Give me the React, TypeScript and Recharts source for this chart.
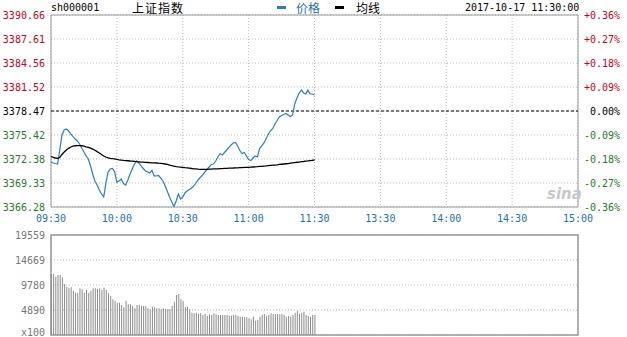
import {
  ComposedChart,
  BarChart,
  Bar,
  Line,
  XAxis,
  YAxis,
  CartesianGrid,
  ReferenceLine,
  ReferenceArea,
} from 'recharts';

// minute index 0 = 09:30, 120 = 11:30 / 13:00, 240 = 15:00
const price = [
  3372.03, 3371.87, 3371.8, 3371.74, 3373.52, 3375.42, 3376.06, 3376.18, 3375.93, 3375.55,
  3375.21, 3374.91, 3374.66, 3374.28, 3373.77, 3373.26, 3372.76, 3372.38, 3371.49, 3370.47,
  3369.58, 3369.07, 3368.44, 3367.93, 3367.55, 3369.33, 3370.72, 3371.11, 3371.17, 3370.72,
  3369.45, 3369.58, 3369.84, 3369.26, 3369.07, 3369.71, 3370.47, 3371.11, 3371.74, 3372.12,
  3371.87, 3371.49, 3371.17, 3370.85, 3370.72, 3370.6, 3370.92, 3370.22, 3370.22, 3370.28,
  3369.96, 3369.58, 3368.95, 3368.25, 3367.55, 3366.92, 3366.34, 3367.04, 3367.93, 3367.3,
  3367.55, 3368.06, 3368.31, 3368.5, 3368.69, 3368.95, 3369.33, 3369.71, 3370.03, 3370.34,
  3370.72, 3371.04, 3371.36, 3371.68, 3371.74, 3372.12, 3372.63, 3373.07, 3372.88, 3373.2,
  3373.52, 3373.84, 3374.15, 3374.41, 3374.47, 3374.03, 3373.45, 3373.07, 3373.2, 3372.76,
  3372.31, 3372.18, 3372.5, 3372.76, 3372.63, 3373.71, 3374.03, 3374.41, 3374.98, 3375.55,
  3375.99, 3376.25, 3376.82, 3377.26, 3377.71, 3377.9, 3378.03, 3378.15, 3377.96, 3377.77,
  3377.96, 3379.36, 3380.12, 3380.76, 3381.14, 3380.76, 3380.63, 3381.14, 3380.63, 3380.63,
  3380.5,
];

const avgPrice = [
  3372.69, 3372.57, 3372.5, 3372.46, 3372.57, 3372.95, 3373.26, 3373.52, 3373.73, 3373.9,
  3374.0, 3374.06, 3374.08, 3374.08, 3374.06, 3374.0, 3373.92, 3373.85, 3373.75, 3373.62,
  3373.49, 3373.31, 3373.14, 3372.95, 3372.76, 3372.63, 3372.53, 3372.46, 3372.41, 3372.38,
  3372.32, 3372.27, 3372.24, 3372.2, 3372.17, 3372.15, 3372.12, 3372.1, 3372.07, 3372.04,
  3372.02, 3371.99, 3371.97, 3371.94, 3371.93, 3371.91, 3371.89, 3371.88, 3371.87, 3371.84,
  3371.82, 3371.78, 3371.74, 3371.68, 3371.61, 3371.54, 3371.46, 3371.41, 3371.37, 3371.35,
  3371.32, 3371.28, 3371.25, 3371.21, 3371.17, 3371.13, 3371.11, 3371.08, 3371.07, 3371.07,
  3371.07, 3371.07, 3371.08, 3371.09, 3371.11, 3371.12, 3371.13, 3371.15, 3371.16, 3371.18,
  3371.19, 3371.21, 3371.22, 3371.23, 3371.25, 3371.26, 3371.27, 3371.28, 3371.3, 3371.31,
  3371.32, 3371.34, 3371.36, 3371.38, 3371.4, 3371.43, 3371.45, 3371.48, 3371.5, 3371.53,
  3371.56, 3371.59, 3371.61, 3371.64, 3371.68, 3371.71, 3371.74, 3371.77, 3371.8, 3371.84,
  3371.88, 3371.92, 3371.96, 3371.99, 3372.03, 3372.06, 3372.1, 3372.13, 3372.17, 3372.21,
  3372.25,
];

// volume in lots (x100)
const volume = [
  11931, 11931, 11403, 11735, 11735, 11286, 9975, 9447, 9134, 9330,
  8665, 8273, 8273, 9134, 8938, 8273, 8802, 8273, 8665, 9134,
  9134, 8997, 9134, 8802, 9251, 8802, 8156, 7628, 6983, 6650,
  6318, 6318, 5868, 5418, 6709, 6005, 6005, 5672, 5222, 5868,
  5868, 5731, 5672, 5672, 5222, 5027, 5535, 5418, 5222, 5222,
  5027, 5222, 5085, 5085, 5027, 5672, 6513, 7824, 8019, 6983,
  6650, 5418, 5535, 5027, 4362, 4244, 4362, 4107, 4244, 3912,
  4107, 3716, 4049, 3912, 4244, 4049, 3912, 3912, 3912, 3912,
  3912, 3775, 3775, 3912, 3912, 3716, 3579, 3579, 3462, 3462,
  3266, 3071, 3579, 2797, 2934, 3579, 3912, 4107, 3775, 3912,
  4244, 4107, 4049, 4107, 4049, 4107, 3912, 3579, 3716, 3579,
  3912, 4362, 4753, 4107, 4362, 4557, 3912, 3716, 3579, 3912,
  3912,
];

const prevClose = 3378.47;
const priceTicks = [3366.28, 3369.33, 3372.38, 3375.42, 3378.47, 3381.52, 3384.56, 3387.61, 3390.66];
const pctLabels = ['-0.36%', '-0.27%', '-0.18%', '-0.09%', '0.00%', '+0.09%', '+0.18%', '+0.27%', '+0.36%'];
const timeTicks = [0, 30, 60, 90, 120, 150, 180, 210, 240];
const timeLabels = ['09:30', '10:00', '10:30', '11:00', '11:30', '13:30', '14:00', '14:30', '15:00'];
const volTicks = [0, 4890, 9780, 14669, 19559];
const volLabels = ['x100', '4890', '9780', '14669', '19559'];

const rows = price.map((p, i) => ({ t: i, price: p, avg: avgPrice[i], vol: volume[i] }));

const MONO = '"DejaVu Sans Mono", monospace';
const CJK = '"Noto Sans CJK SC", sans-serif';
const RED = '#cc0022';
const GREEN = '#2a7a2a';
const BLUE = '#1f72b0';
const LINE_BLUE = '#2b7fb8';
const FRAME = '#999999';
const GRID = '#bbbbbb';

const tickColor = (v: number) => (v > prevClose ? RED : v < prevClose ? GREEN : '#000');

const LeftPriceTick = (props: any) => {
  const v = props.payload.value;
  return (
    <text x={45} y={props.y} dy="0.355em" textAnchor="end" fontFamily={MONO} fontSize={10} fill={tickColor(v)}>
      {v.toFixed(2)}
    </text>
  );
};

const RightPctTick = (props: any) => {
  const v = props.payload.value;
  const idx = priceTicks.indexOf(v);
  return (
    <text x={620} y={props.y} dy="0.355em" textAnchor="end" fontFamily={MONO} fontSize={10} fill={tickColor(v)}>
      {pctLabels[idx]}
    </text>
  );
};

const TimeTick = (props: any) => {
  const idx = timeTicks.indexOf(props.payload.value);
  return (
    <text x={props.x} y={props.y} dy="0.71em" textAnchor="middle" fontFamily={MONO} fontSize={10} fill={BLUE}>
      {timeLabels[idx]}
    </text>
  );
};

const VolTick = (props: any) => {
  const v = props.payload.value;
  const idx = volTicks.indexOf(v);
  // bottom label sits on the frame edge, nudge it up so it stays readable
  return (
    <text x={45} y={v === 0 ? props.y - 3 : props.y} dy="0.355em" textAnchor="end" fontFamily={MONO} fontSize={10} fill="#777">
      {volLabels[idx]}
    </text>
  );
};

const PriceChart = () => (
  <ComposedChart width={627} height={230} data={rows} margin={{ top: 15, right: 0, bottom: 0, left: 0 }}>
    <CartesianGrid yAxisId="left" stroke={GRID} strokeDasharray="1 2" />
    <XAxis
      dataKey="t"
      type="number"
      domain={[0, 240]}
      ticks={timeTicks}
      interval={0}
      height={23}
      axisLine={false}
      tickLine={false}
      tick={<TimeTick />}
    />
    <YAxis
      yAxisId="left"
      width={51}
      domain={[3366.28, 3390.66]}
      ticks={priceTicks}
      interval={0}
      allowDataOverflow
      axisLine={false}
      tickLine={false}
      tick={<LeftPriceTick />}
    />
    <YAxis
      yAxisId="right"
      orientation="right"
      width={49}
      domain={[3366.28, 3390.66]}
      ticks={priceTicks}
      interval={0}
      allowDataOverflow
      axisLine={false}
      tickLine={false}
      tick={<RightPctTick />}
    />
    <ReferenceLine yAxisId="left" y={prevClose} stroke="#000" strokeDasharray="3 2" />
    <ReferenceArea yAxisId="left" x1={0} x2={240} y1={3366.28} y2={3390.66} fill="none" stroke={FRAME} strokeWidth={1} />
    <Line
      yAxisId="left"
      dataKey="price"
      type="linear"
      stroke={LINE_BLUE}
      strokeWidth={1.2}
      dot={false}
      isAnimationActive={false}
    />
    <Line
      yAxisId="right"
      dataKey="avg"
      type="linear"
      stroke="#000"
      strokeWidth={1.3}
      dot={false}
      isAnimationActive={false}
    />
  </ComposedChart>
);

const VolumeChart = () => (
  <BarChart width={627} height={107} data={rows} margin={{ top: 5, right: 49, bottom: 2, left: 0 }}>
    <CartesianGrid stroke={GRID} strokeDasharray="1 2" />
    <XAxis
      dataKey="t"
      type="number"
      domain={[0, 240]}
      ticks={timeTicks}
      interval={0}
      height={0}
      axisLine={false}
      tickLine={false}
      tick={false}
    />
    <YAxis
      width={51}
      domain={[0, 19559]}
      ticks={volTicks}
      interval={0}
      axisLine={false}
      tickLine={false}
      tick={<VolTick />}
    />
    <ReferenceArea x1={0} x2={240} y1={0} y2={19559} fill="none" stroke={FRAME} strokeWidth={1.5} />
    <Bar dataKey="vol" fill="#8c8c8c" barSize={1} isAnimationActive={false} />
  </BarChart>
);

const head = { position: 'absolute' as const, top: 1, fontFamily: MONO, fontSize: 10, lineHeight: '14px' };
const cjk = { position: 'absolute' as const, top: 0, fontFamily: CJK, fontSize: 12, lineHeight: '15px' };

export default function App() {
  return (
    <div style={{ position: 'absolute', left: 0, top: 0, width: 627, height: 337, background: '#fff', overflow: 'hidden' }}>
      <div style={{ position: 'absolute', left: 0, top: 0 }}>
        <PriceChart />
      </div>
      <div style={{ position: 'absolute', left: 0, top: 230 }}>
        <VolumeChart />
      </div>
      <span style={{ ...head, left: 51, color: '#000' }}>sh000001</span>
      <span style={{ ...cjk, left: 132, letterSpacing: 1, color: '#000' }}>上证指数</span>
      <span style={{ position: 'absolute', left: 277, top: 6, width: 9, height: 3, background: LINE_BLUE }} />
      <span style={{ ...cjk, left: 296, color: BLUE }}>价格</span>
      <span style={{ position: 'absolute', left: 335, top: 6, width: 9, height: 3, background: '#000' }} />
      <span style={{ ...cjk, left: 356, color: '#000' }}>均线</span>
      <span style={{ ...head, left: 465, color: '#000' }}>2017-10-17 11:30:00</span>
      <span
        style={{
          position: 'absolute',
          left: 547,
          top: 186,
          fontFamily: '"DejaVu Sans", sans-serif',
          fontSize: 15,
          fontStyle: 'italic',
          fontWeight: 'bold',
          lineHeight: '16px',
          color: '#c8c8c8',
        }}
      >
        sina
      </span>
    </div>
  );
}
